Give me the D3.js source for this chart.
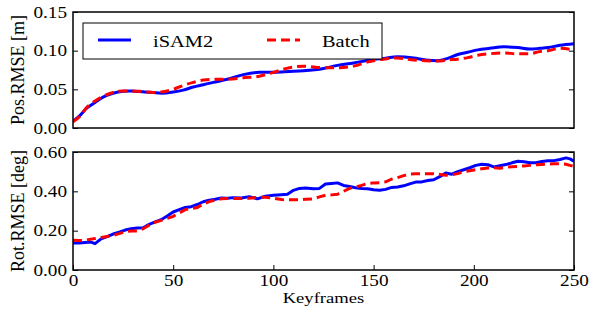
<!DOCTYPE html>
<html>
<head>
<meta charset="utf-8">
<script src="https://cdn.jsdelivr.net/npm/d3@7"></script>
<style>
body { margin: 0; background: #fff; }
</style>
</head>
<body>
<script>
// keyframe positions and RMSE readings
var posKeys = [0, 3, 7, 11, 15, 20, 25, 29, 35, 40, 44, 50, 55, 60, 65, 70, 77, 85, 93, 100, 108, 115, 125, 132, 140, 148, 155, 162, 170, 176, 182, 187, 192, 197, 202, 208, 215, 222, 228, 233, 237, 243, 250];
var posISAM2 = [0.009, 0.015, 0.026, 0.033, 0.040, 0.045, 0.0475, 0.048, 0.0468, 0.0458, 0.045, 0.0465, 0.049, 0.053, 0.056, 0.059, 0.063, 0.069, 0.072, 0.072, 0.073, 0.074, 0.077, 0.081, 0.084, 0.088, 0.090, 0.092, 0.0905, 0.088, 0.087, 0.090, 0.095, 0.098, 0.101, 0.103, 0.105, 0.104, 0.102, 0.103, 0.104, 0.107, 0.109];
var posBatch = [0.008, 0.014, 0.027, 0.035, 0.041, 0.046, 0.048, 0.048, 0.047, 0.046, 0.0465, 0.050, 0.055, 0.059, 0.062, 0.063, 0.063, 0.065, 0.067, 0.072, 0.078, 0.080, 0.078, 0.078, 0.080, 0.086, 0.089, 0.0905, 0.088, 0.087, 0.0865, 0.088, 0.089, 0.091, 0.094, 0.096, 0.097, 0.096, 0.096, 0.099, 0.100, 0.103, 0.101];

var rotKeys = [0, 3, 6, 9, 11, 14, 17, 20, 23, 26, 29, 32, 35, 38, 41, 44, 47, 50, 53, 56, 59, 62, 65, 68, 71, 74, 77, 80, 84, 88, 92, 96, 100, 104, 107, 110, 113, 116, 120, 123, 126, 129, 132, 135, 138, 141, 144, 147, 150, 153, 156, 159, 162, 165, 168, 171, 174, 177, 180, 183, 186, 189, 192, 195, 198, 201, 204, 207, 210, 213, 216, 219, 222, 225, 228, 231, 234, 237, 240, 243, 246, 248, 250];
var rotISAM2 = [0.137, 0.137, 0.140, 0.142, 0.134, 0.158, 0.170, 0.183, 0.192, 0.203, 0.210, 0.213, 0.215, 0.232, 0.245, 0.256, 0.275, 0.295, 0.307, 0.318, 0.322, 0.333, 0.347, 0.355, 0.360, 0.366, 0.365, 0.368, 0.366, 0.373, 0.362, 0.375, 0.380, 0.383, 0.385, 0.405, 0.415, 0.417, 0.413, 0.415, 0.437, 0.440, 0.443, 0.430, 0.425, 0.418, 0.415, 0.413, 0.408, 0.405, 0.410, 0.420, 0.422, 0.428, 0.438, 0.447, 0.448, 0.455, 0.459, 0.475, 0.493, 0.487, 0.500, 0.510, 0.520, 0.532, 0.538, 0.535, 0.524, 0.530, 0.536, 0.545, 0.553, 0.550, 0.545, 0.545, 0.552, 0.555, 0.556, 0.562, 0.570, 0.565, 0.553];
var rotBatch = [0.151, 0.150, 0.150, 0.157, 0.160, 0.165, 0.170, 0.176, 0.185, 0.195, 0.198, 0.198, 0.210, 0.228, 0.243, 0.252, 0.262, 0.273, 0.290, 0.307, 0.313, 0.318, 0.335, 0.348, 0.356, 0.362, 0.363, 0.363, 0.363, 0.365, 0.370, 0.370, 0.365, 0.358, 0.357, 0.357, 0.357, 0.360, 0.362, 0.372, 0.380, 0.382, 0.385, 0.400, 0.415, 0.422, 0.430, 0.440, 0.443, 0.444, 0.448, 0.462, 0.470, 0.480, 0.488, 0.489, 0.490, 0.490, 0.490, 0.486, 0.482, 0.485, 0.490, 0.500, 0.505, 0.510, 0.515, 0.519, 0.520, 0.518, 0.522, 0.525, 0.527, 0.529, 0.532, 0.535, 0.537, 0.538, 0.540, 0.541, 0.538, 0.532, 0.527];

var xTicks = [0, 50, 100, 150, 200, 250];
var posTicks = [0.00, 0.05, 0.10, 0.15];
var rotTicks = [0.00, 0.20, 0.40, 0.60];
var seriesNames = ["iSAM2", "Batch"];

var width = 598, height = 313;
var left = 73, right = 574;
var serif = "'Liberation Serif', serif";
var stretch = 1.2; // the source figure is a little wider than tall

var svg = d3.select("body").append("svg")
	.attr("width", width)
	.attr("height", height)
	.attr("font-family", serif);

var x = d3.scaleLinear().domain([0, 250]).range([left, right]);

// widen glyphs horizontally like the reference
function widen(sel) {
	sel.each(function() {
		var w = this.getComputedTextLength();
		d3.select(this).attr("textLength", w * stretch).attr("lengthAdjust", "spacingAndGlyphs");
	});
}

function panel(top, bottom, yMax, yTicks, keys, blue, red, label, showX, curve) {
	var y = d3.scaleLinear().domain([0, yMax]).range([bottom, top]);

	var g = svg.append("g");

	// inward ticks left & right
	g.append("g")
		.attr("transform", "translate(" + left + ",0)")
		.call(d3.axisLeft(y).tickValues(yTicks).tickFormat(d3.format(".2f")).tickSizeInner(-5).tickSizeOuter(0).tickPadding(6))
		.attr("font-family", serif)
		.attr("font-size", 16)
		.call(function(a) {
			a.select(".domain").remove();
			a.selectAll("line").attr("stroke", "#000").attr("stroke-width", 1);
			a.selectAll("text").call(widen);
		});
	g.append("g")
		.attr("transform", "translate(" + right + ",0)")
		.call(d3.axisRight(y).tickValues(yTicks).tickFormat("").tickSizeInner(-5).tickSizeOuter(0))
		.call(function(a) {
			a.select(".domain").remove();
			a.selectAll("line").attr("stroke", "#000").attr("stroke-width", 1);
		});

	if (showX) {
		g.append("g")
			.attr("transform", "translate(0," + bottom + ")")
			.call(d3.axisBottom(x).tickValues(xTicks).tickFormat(d3.format("d")).tickSizeInner(-5).tickSizeOuter(0).tickPadding(5))
			.attr("font-family", serif)
			.attr("font-size", 16)
			.call(function(a) {
				a.select(".domain").remove();
				a.selectAll("line").attr("stroke", "#000").attr("stroke-width", 1);
				a.selectAll("text").call(widen);
			});
	}

	var line = d3.line()
		.x(function(d) { return x(d[0]); })
		.y(function(d) { return y(d[1]); })
		.curve(curve);

	var clipId = "clip" + top;
	svg.append("clipPath").attr("id", clipId)
		.append("rect").attr("x", left).attr("y", top).attr("width", right - left).attr("height", bottom - top);

	g.append("path")
		.datum(keys.map(function(k, i) { return [k, blue[i]]; }))
		.attr("clip-path", "url(#" + clipId + ")")
		.attr("fill", "none")
		.attr("stroke", "#0000ff")
		.attr("stroke-width", 3)
		.attr("stroke-linejoin", "round")
		.attr("d", line);

	g.append("path")
		.datum(keys.map(function(k, i) { return [k, red[i]]; }))
		.attr("clip-path", "url(#" + clipId + ")")
		.attr("fill", "none")
		.attr("stroke", "#ff0000")
		.attr("stroke-width", 3)
		.attr("stroke-dasharray", "9,5")
		.attr("d", line);

	g.append("rect")
		.attr("x", left).attr("y", top)
		.attr("width", right - left).attr("height", bottom - top)
		.attr("fill", "none")
		.attr("stroke", "#000")
		.attr("stroke-width", 1.5);

	g.append("text")
		.attr("transform", "translate(24," + ((top + bottom) / 2) + ") rotate(-90)")
		.attr("text-anchor", "middle")
		.attr("font-size", 18)
		.text(label);
}

panel(12, 128, 0.15, posTicks, posKeys, posISAM2, posBatch, "Pos.RMSE [m]", false, d3.curveMonotoneX);
panel(152, 270, 0.60, rotTicks, rotKeys, rotISAM2, rotBatch, "Rot.RMSE [deg]", true, d3.curveLinear);

svg.append("text")
	.attr("x", (left + right) / 2)
	.attr("y", 303)
	.attr("text-anchor", "middle")
	.attr("font-size", 15.5)
	.text("Keyframes")
	.call(widen);

// legend
var legend = svg.append("g");
legend.append("rect")
	.attr("x", 83).attr("y", 23)
	.attr("width", 299).attr("height", 36)
	.attr("fill", "#fff")
	.attr("stroke", "#000")
	.attr("stroke-width", 1);

var legendX = [98, 267];
seriesNames.forEach(function(name, i) {
	legend.append("line")
		.attr("x1", legendX[i]).attr("x2", legendX[i] + 33)
		.attr("y1", 40).attr("y2", 40)
		.attr("stroke", i === 0 ? "#0000ff" : "#ff0000")
		.attr("stroke-width", 3)
		.attr("stroke-dasharray", i === 0 ? null : "9,5");
	legend.append("text")
		.attr("x", legendX[i] + 55)
		.attr("y", 47)
		.attr("font-size", 17)
		.text(name)
		.call(widen);
});
</script>
</body>
</html>
